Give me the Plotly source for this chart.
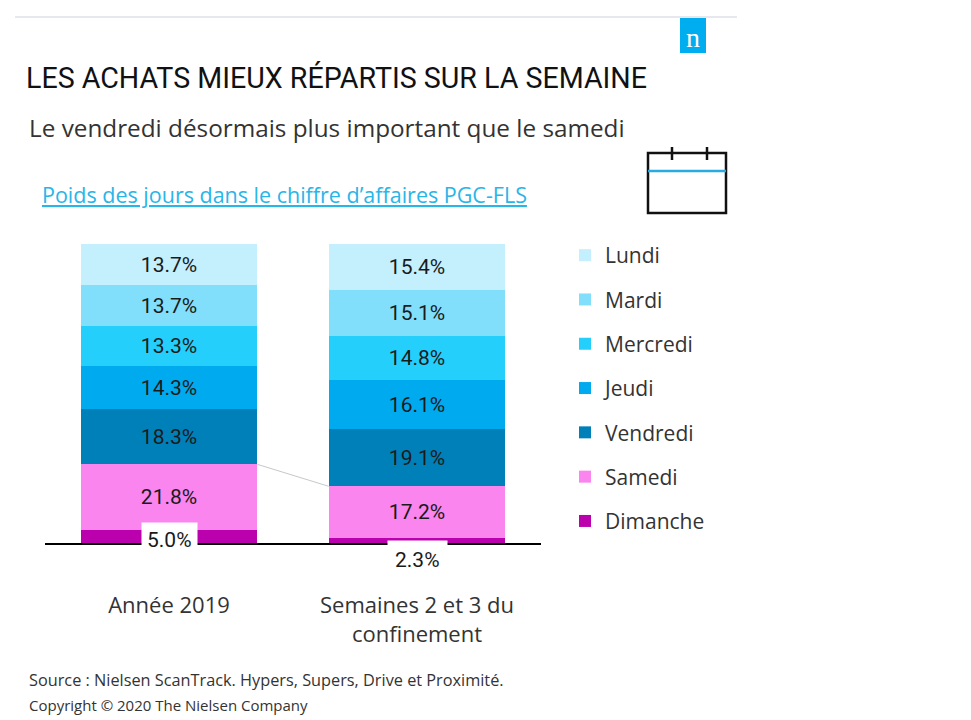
import plotly.graph_objects as go

categories = ["Année 2019", "Semaines 2 et 3 du<br>confinement"]
days = ["Dimanche", "Samedi", "Vendredi", "Jeudi", "Mercredi", "Mardi", "Lundi"]
year_2019 = [5.0, 21.8, 18.3, 14.3, 13.3, 13.7, 13.7]
confinement = [2.3, 17.2, 19.1, 16.1, 14.8, 15.1, 15.4]
day_colors = ["#bb00ad", "#fb85ee", "#0080b8", "#00aaee", "#25cffc", "#82dffb", "#c4effd"]

NARROW = "Roboto, sans-serif"
SANS = "Open Sans, Noto Sans, sans-serif"
BAR_W = 0.712


# page pixel -> paper helpers (plot area spans x 45..541, y 545..244 on the page)
def px(x):
    return (x - 45) / 496


def py(y):
    return (545 - y) / 301


fig = go.Figure()

for i, day in enumerate(days):
    vals = [year_2019[i], confinement[i]]
    if day == "Dimanche":
        txt = ["", ""]
    else:
        txt = ["%.1f%%" % v for v in vals]
    fig.add_trace(go.Bar(
        x=categories, y=vals, name=day, width=BAR_W,
        marker=dict(color=day_colors[i], line=dict(width=0)),
        text=txt, textposition="inside", insidetextanchor="middle",
        textfont=dict(family=NARROW, size=21, color="#1a1a1a"),
        legendgroup=day, legendrank=len(days) - i, hoverinfo="skip",
    ))

# thin connector between the tops of the Samedi segments
top_sam_2019 = year_2019[0] + year_2019[1]
top_sam_conf = confinement[0] + confinement[1]
fig.add_trace(go.Scatter(
    x=[BAR_W / 2, 1 - BAR_W / 2], y=[top_sam_2019, top_sam_conf],
    xaxis="x2", mode="lines", line=dict(color="#c8c8c8", width=1),
    showlegend=False, hoverinfo="skip",
))

annotations = []
# Dimanche labels in white boxes
annotations.append(dict(
    x=categories[0], y=year_2019[0] / 2, xref="x", yref="y", yshift=-3,
    text="%.1f%%" % year_2019[0], showarrow=False, bgcolor="white", borderpad=5,
    font=dict(family=NARROW, size=21, color="#1a1a1a"),
))
annotations.append(dict(
    x=categories[1], y=0, xref="x", yref="y", yshift=-15,
    text="%.1f%%" % confinement[0], showarrow=False, bgcolor="white", borderpad=7,
    font=dict(family=NARROW, size=21, color="#1a1a1a"),
))

annotations += [
    dict(x=px(24), y=py(78), text="LES ACHATS MIEUX RÉPARTIS SUR LA SEMAINE",
         font=dict(family=NARROW, size=28.6, color="#111111")),
    dict(x=px(27), y=py(128), text="Le vendredi désormais plus important que le samedi",
         font=dict(family=SANS, size=24.3, color="#333333")),
    dict(x=px(40), y=py(194), text="Poids des jours dans le chiffre d’affaires PGC-FLS",
         font=dict(family=SANS, size=21.5, color="#29b5e8", lineposition="under")),
    dict(x=px(27), y=py(680), text="Source : Nielsen ScanTrack. Hypers, Supers, Drive et Proximité.",
         font=dict(family=SANS, size=16.3, color="#333333")),
    dict(x=px(27), y=py(705), text="Copyright © 2020 The Nielsen Company",
         font=dict(family=SANS, size=15, color="#333333")),
]
for a in annotations[2:]:
    a.update(xref="paper", yref="paper", xanchor="left", yanchor="middle", showarrow=False)

annotations.append(dict(
    x=px(693), y=py(37), xref="paper", yref="paper", text="n", showarrow=False,
    xanchor="center", yanchor="middle",
    font=dict(family="Liberation Serif, DejaVu Serif, serif", size=28, color="white"),
))

shapes = [
    # baseline
    dict(type="line", xref="paper", yref="y", x0=0, x1=1, y0=0, y1=0,
         line=dict(color="black", width=4), layer="above"),
    # top rule
    dict(type="line", xref="paper", yref="paper", x0=px(15), x1=px(737), y0=py(17), y1=py(17),
         line=dict(color="#e6e8ee", width=2)),
    # nielsen logo
    dict(type="rect", xref="paper", yref="paper", x0=px(680), x1=px(706), y0=py(18), y1=py(53),
         fillcolor="#00aeef", line=dict(width=0)),
    # calendar icon
    dict(type="rect", xref="paper", yref="paper", x0=px(648), x1=px(726), y0=py(153), y1=py(213),
         line=dict(color="#111111", width=2.5)),
    dict(type="line", xref="paper", yref="paper", x0=px(648), x1=px(726), y0=py(171), y1=py(171),
         line=dict(color="#29abe2", width=2.5)),
    dict(type="line", xref="paper", yref="paper", x0=px(672), x1=px(672), y0=py(147), y1=py(160),
         line=dict(color="#111111", width=2.5)),
    dict(type="line", xref="paper", yref="paper", x0=px(707), x1=px(707), y0=py(147), y1=py(160),
         line=dict(color="#111111", width=2.5)),
]

fig.update_layout(
    width=971, height=720,
    margin=dict(l=37, r=438, t=236, b=183),
    paper_bgcolor="white", plot_bgcolor="white",
    barmode="stack", bargap=0,
    xaxis=dict(range=[-0.5, 1.5], showgrid=False, zeroline=False, showline=False,
               ticks="", tickfont=dict(family=SANS, size=22, color="#333333"),
               ticklabelstandoff=45),
    xaxis2=dict(overlaying="x", range=[-0.5, 1.5], visible=False),
    yaxis=dict(range=[0, 100], visible=False, fixedrange=True),
    legend=dict(x=px(565), y=py(235), xanchor="left", yanchor="top",
                traceorder="grouped", tracegroupgap=14,
                font=dict(family=SANS, size=21, color="#333333"),
                itemwidth=30, bgcolor="rgba(0,0,0,0)"),
    annotations=annotations,
    shapes=shapes,
    uniformtext=dict(mode="show", minsize=10),
)

fig.write_html("out.html")
